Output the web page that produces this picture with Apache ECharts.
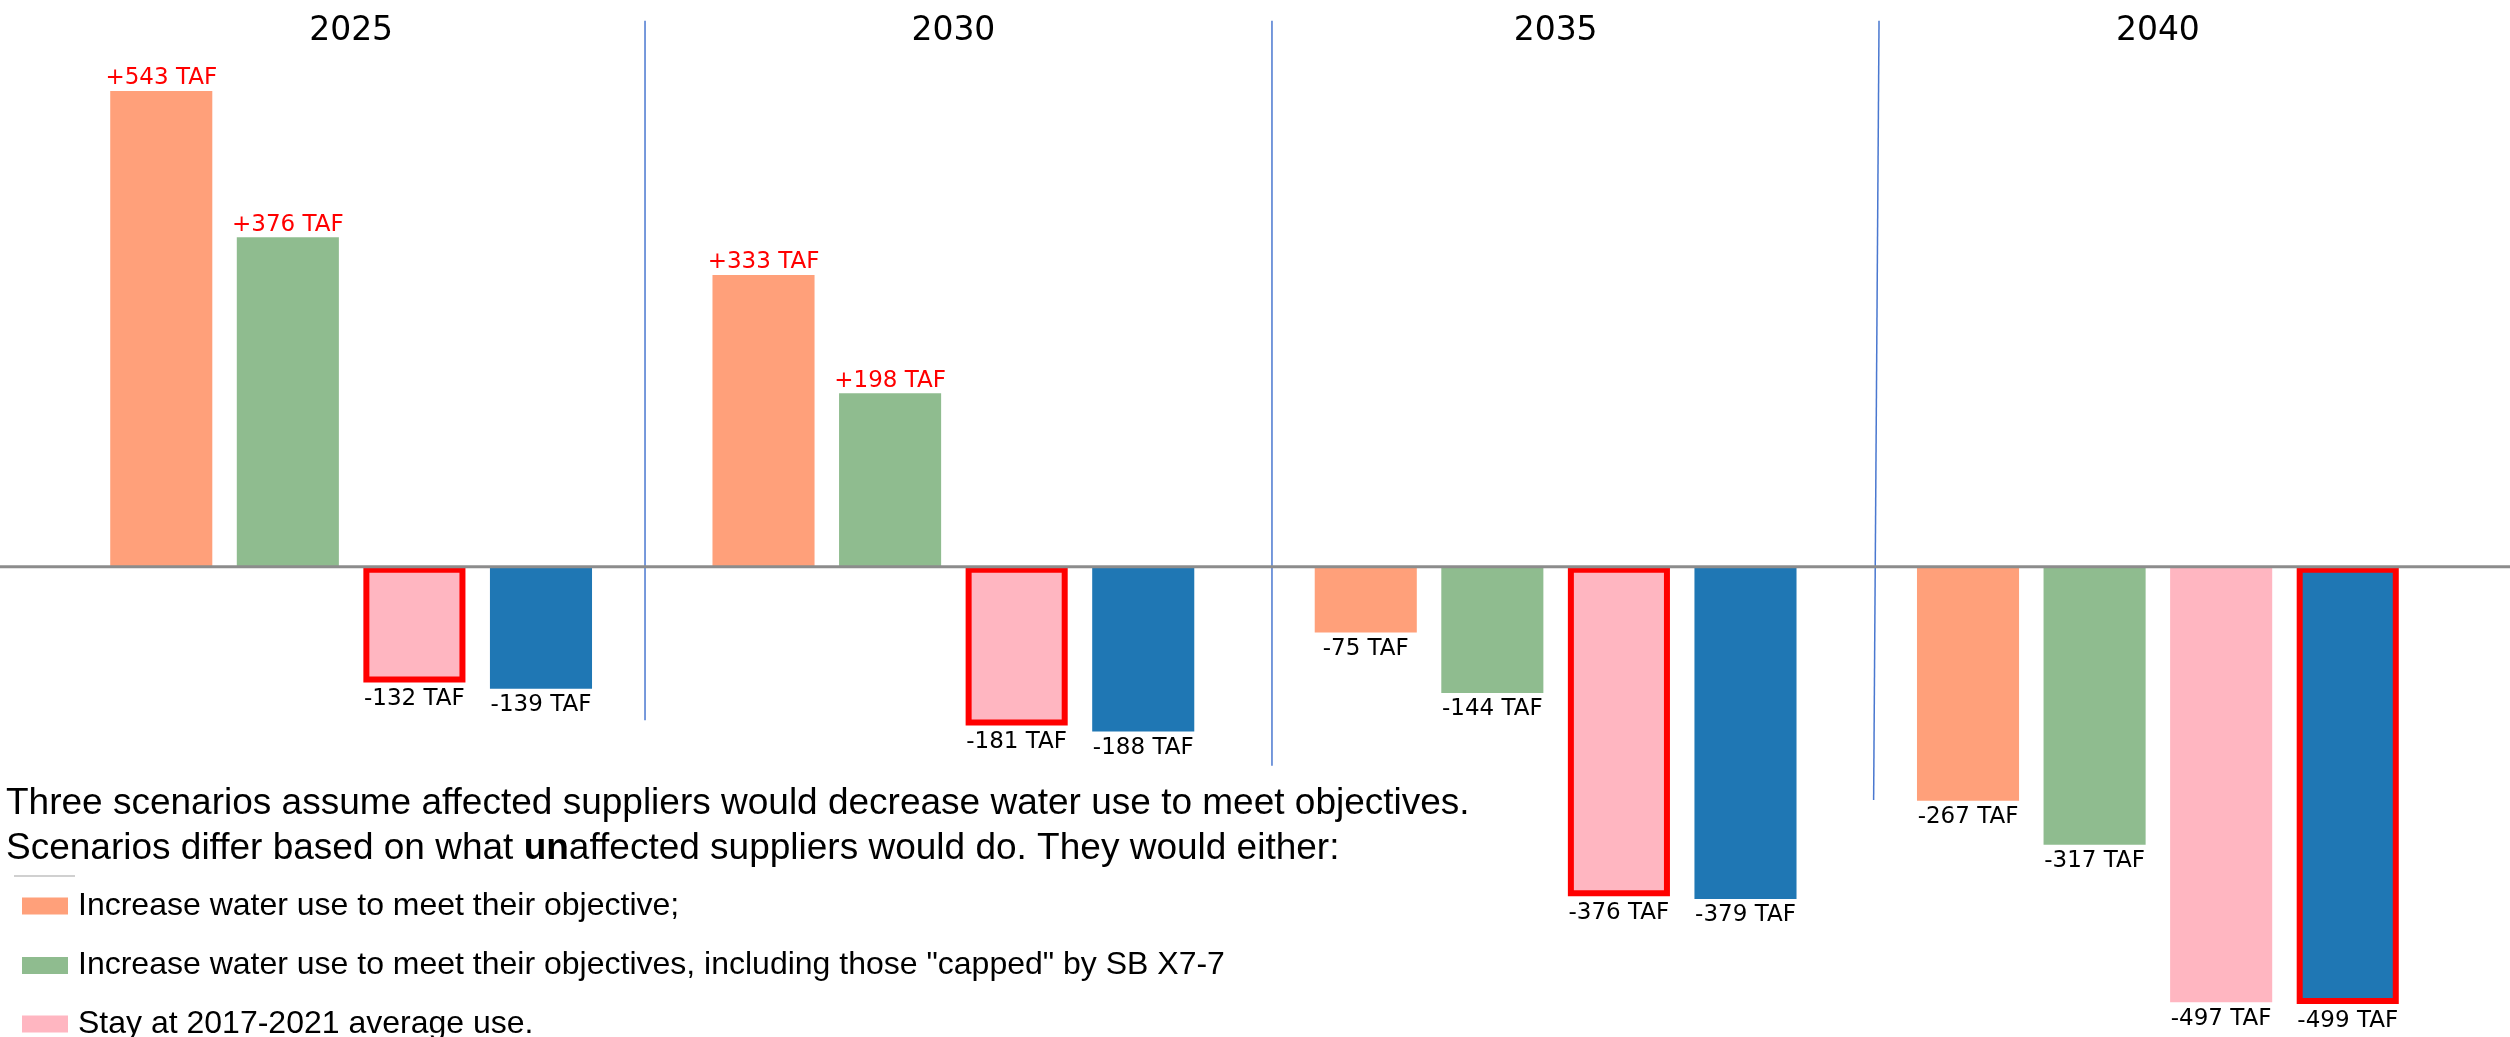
<!DOCTYPE html>
<html>
<head>
<meta charset="utf-8">
<title>Water use scenarios</title>
<script src="https://cdn.jsdelivr.net/npm/echarts@6/dist/echarts.min.js"></script>
<style>
    html, body { margin: 0; padding: 0; background: #fff; }
    #chart { width: 2510px; height: 1037px; }
</style>
</head>
<body>
<div id="chart"></div>
<script>
// values in TAF, one entry per year
var years = ['2025', '2030', '2035', '2040']
var increaseObjective = [543, 333, -75, -267]
var increaseCapped = [376, 198, -144, -317]
var stayAverage = [-132, -181, -376, -497]
var allSuppliers = [-139, -188, -379, -499]

var seriesNames = [
    'Increase water use to meet their objective;',
    'Increase water use to meet their objectives, including those "capped" by SB X7-7',
    'Stay at 2017-2021 average use.',
    'All suppliers',
]
var seriesColors = ['#ffa07a', '#8fbc8f', '#ffb6c1', '#1f77b4']

// bars outlined in red: [series index, year index]
var outlined = [[2, 0], [2, 1], [2, 2], [3, 3]]

// thin blue dividers between years (hidden 0..4 axis, y in TAF)
var dividerX = [[0.988, 0.988], [2.029, 2.029], [3.037, 3.028]]
var dividerTop = 623
var dividerBottom = [-175, -227, -266]

// legend rows (top of each row, px); only the three described scenarios are listed
var legendTops = [890, 949.5, 1008]

var labelFont = 'DejaVu Sans'
var textFont = 'Liberation Sans, Arial, sans-serif'

function isOutlined(s, i) {
    return outlined.some(function (o) { return o[0] === s && o[1] === i })
}

function barData(values, s) {
    return values.map(function (v, i) {
        var item = {
            value: v,
            label: {
                show: true,
                position: v >= 0 ? 'top' : 'bottom',
                distance: v >= 0 ? 1 : 5,
                color: v >= 0 ? '#ff0000' : '#000000',
                fontFamily: labelFont,
                fontSize: 23,
                formatter: function (p) {
                    return (p.value > 0 ? '+' : '') + p.value + ' TAF'
                },
            },
        }
        if (isOutlined(s, i)) {
            item.itemStyle = { borderColor: '#ff0000', borderWidth: 6 }
        }
        return item
    })
}

var chart = echarts.init(document.getElementById('chart'))

var series = [increaseObjective, increaseCapped, stayAverage, allSuppliers].map(function (vals, s) {
    return {
        name: seriesNames[s],
        type: 'bar',
        xAxisIndex: 0,
        data: barData(vals, s),
        itemStyle: { color: seriesColors[s] },
        barGap: '24%',
        barCategoryGap: '20%',
    }
})

dividerX.forEach(function (x, k) {
    series.push({
        type: 'line',
        xAxisIndex: 1,
        data: [[x[0], dividerTop], [x[1], dividerBottom[k]]],
        symbol: 'none',
        clip: false,
        silent: true,
        lineStyle: { color: '#4a78d0', width: 1.5 },
    })
})

var legends = legendTops.map(function (top, k) {
    return {
        data: [seriesNames[k]],
        orient: 'vertical',
        left: 22,
        top: top,
        padding: 0,
        itemWidth: 46,
        itemHeight: 17,
        icon: 'rect',
        selectedMode: false,
        textStyle: {
            fontFamily: textFont,
            fontSize: 32,
            lineHeight: 20,
            color: '#000',
            padding: [0, 0, 0, 5],
        },
    }
})

var normalText = { fontFamily: textFont, fontSize: 37, lineHeight: 45, color: '#000', fontWeight: 'normal' }

chart.setOption({
    animation: false,
    backgroundColor: '#ffffff',
    title: {
        left: 6,
        top: 781,
        padding: 0,
        text: '{n|Three scenarios assume affected suppliers would decrease water use to meet objectives.}\n' +
            '{n|Scenarios differ based on what }{b|un}{n|affected suppliers would do. They would either:}',
        textStyle: {
            fontWeight: 'normal',
            rich: {
                n: normalText,
                b: Object.assign({}, normalText, { fontWeight: 'bold' }),
            },
        },
    },
    legend: legends,
    grid: {
        left: 50,
        right: 51,
        top: 41,
        bottom: 32,
        outerBoundsMode: 'none',
    },
    xAxis: [
        {
            type: 'category',
            data: years,
            position: 'top',
            axisLine: { show: false },
            axisTick: { show: false },
            splitLine: { show: false },
            axisLabel: {
                margin: 10,
                verticalAlign: 'middle',
                fontFamily: labelFont,
                fontSize: 33,
                color: '#000',
            },
        },
        {
            type: 'value',
            min: 0,
            max: 4,
            show: false,
        },
    ],
    yAxis: {
        type: 'value',
        min: -500,
        max: 600,
        show: false,
        splitLine: { show: false },
    },
    series: series,
})

// zero line across the whole width, placed with the y scale
var zeroY = chart.convertToPixel({ yAxisIndex: 0 }, 0)
var width = chart.getWidth()
chart.setOption({
    graphic: [
        {
            type: 'line',
            z: 5,
            silent: true,
            shape: { x1: 0, y1: zeroY, x2: width, y2: zeroY },
            style: { stroke: '#8c8c8c', lineWidth: 3 },
        },
        {
            type: 'line',
            silent: true,
            shape: { x1: 14, y1: 876, x2: 75, y2: 876 },
            style: { stroke: '#d0d0d0', lineWidth: 2 },
        },
    ],
})
</script>
</body>
</html>
